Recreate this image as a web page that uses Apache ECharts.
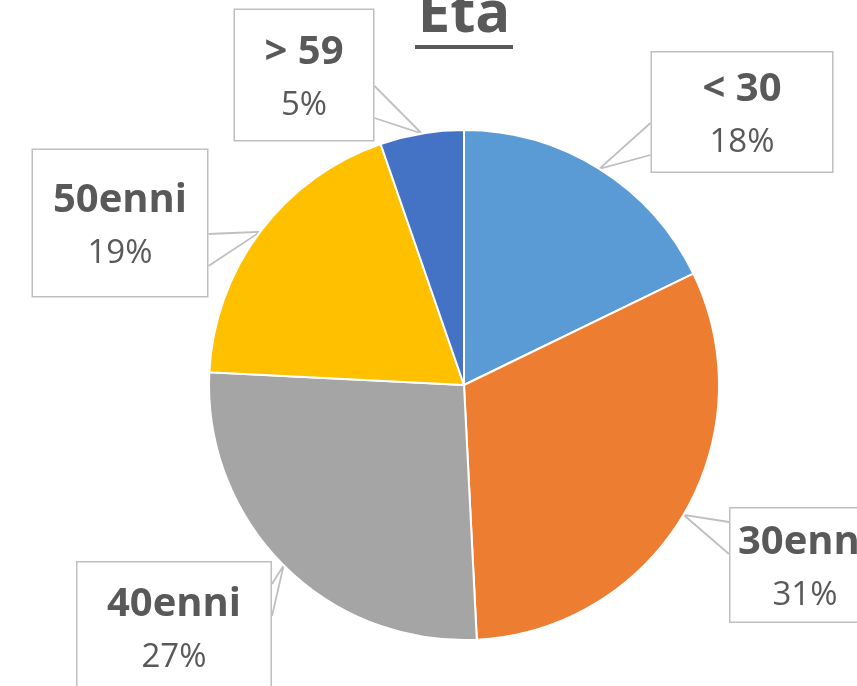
<!DOCTYPE html>
<html>
<head>
<meta charset="utf-8">
<script src="https://cdn.jsdelivr.net/npm/echarts@6/dist/echarts.min.js"></script>
<style>
  html, body { margin: 0; padding: 0; background: #fff; }
  #chart { width: 857px; height: 686px; }
</style>
</head>
<body>
<div id="chart"></div>
<script>
// data (shares in %, labels show them rounded)
const categories = ["< 30", "30enni", "40enni", "50enni", "> 59"];
const shares = [17.8, 31.4, 26.6, 18.9, 5.3];
const colors = ["#5B9BD5", "#ED7D31", "#A5A5A5", "#FFC000", "#4472C4"];

// where each callout box sits (centre) and its outer size
const boxCenters = [[742, 112], [805, 565], [174, 627], [120, 223], [304, 75]];
const boxSizes = [[183, 121], [152, 115], [196, 131], [177, 148], [141, 132]];

const LINE_H = 53;
const chart = echarts.init(document.getElementById("chart"));

const option = {
  backgroundColor: "#fff",
  animation: false,
  color: colors,
  title: {
    text: "Età",
    left: 464,
    textAlign: "center",
    top: -14,
    padding: 0,
    textStyle: {
      fontFamily: "Open Sans",
      fontWeight: "bold",
      fontSize: 58,
      color: "#595959"
    }
  },
  graphic: [
    {
      // title underline
      type: "rect",
      shape: { x: 415, y: 45, width: 98, height: 4 },
      style: { fill: "#595959" }
    }
  ],
  series: [
    {
      type: "pie",
      center: [464, 385],
      radius: 255,
      startAngle: 90,
      clockwise: true,
      itemStyle: { borderColor: "#fff", borderWidth: 2 },
      data: categories.map((name, i) => {
        const [w, h] = boxSizes[i];
        const extra = h - 2 * LINE_H;
        return {
          name,
          value: shares[i],
          label: {
            width: w - 3,
            padding: [extra / 2 + 3, 0, extra / 2 - 5, 0]
          }
        };
      }),
      label: {
        show: true,
        position: "outside",
        formatter: (p) => "{b|" + p.name + "}\n{d|" + Math.round(p.percent) + "%}",
        align: "center",
        backgroundColor: "#fff",
        borderColor: "#BFBFBF",
        borderWidth: 1.5,
        rich: {
          b: {
            fontFamily: "Open Sans",
            fontWeight: "bold",
            fontSize: 40,
            lineHeight: LINE_H,
            color: "#595959",
            align: "center"
          },
          d: {
            fontFamily: "Open Sans",
            fontSize: 33,
            lineHeight: LINE_H,
            color: "#595959",
            align: "center"
          }
        }
      },
      labelLine: {
        show: true,
        length: 10,
        length2: 10,
        lineStyle: { color: "#BFBFBF", width: 1.8 }
      },
      labelLayout: function (params) {
        const i = params.dataIndex;
        const [cx, cy] = boxCenters[i];
        const [w, h] = boxSizes[i];
        const tip = params.labelLinePoints[0];
        const edgeX = tip[0] < cx ? cx - w / 2 : cx + w / 2;
        const mid = cy + (tip[1] > cy ? 27 : -27);
        return {
          x: cx,
          y: cy,
          align: "center",
          verticalAlign: "middle",
          labelLinePoints: [[edgeX, mid - 16], tip, [edgeX, mid + 16]]
        };
      }
    }
  ]
};

chart.setOption(option);
</script>
</body>
</html>
